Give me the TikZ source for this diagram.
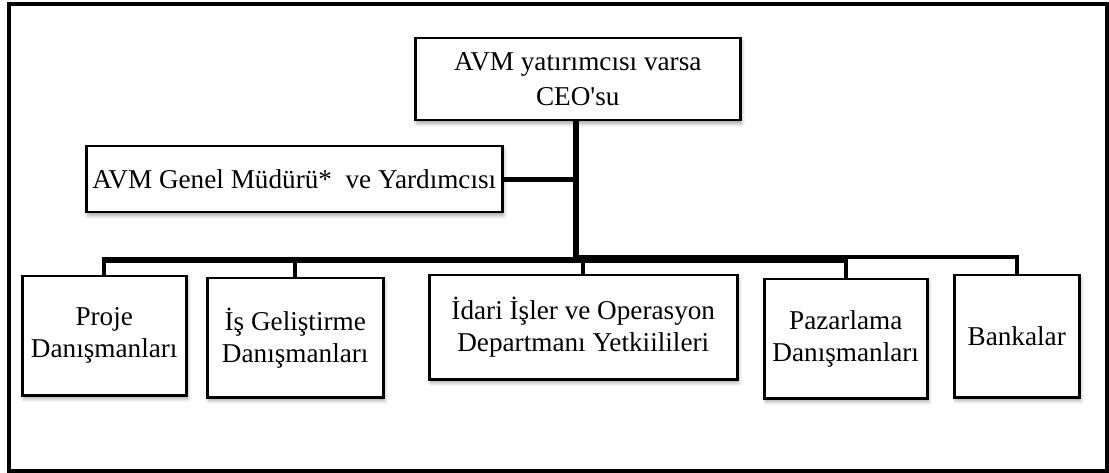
\documentclass[tikz,border=0pt]{standalone}
\usepackage{fontspec}
\setmainfont{Liberation Serif}
\usetikzlibrary{shadows.blur}
\tikzset{
  orgbox/.style={draw, line width=2.5pt, fill=white, align=center,
    inner sep=0pt, anchor=north west,
    font=\fontsize{27.2}{32}\selectfont,
    blur shadow={shadow xshift=1.5pt, shadow yshift=-3.5pt,
      shadow opacity=35, shadow blur steps=6, shadow blur radius=3.5pt}},
  trunk/.style={line width=6pt},
  bus/.style={line width=6.5pt},
  drop/.style={line width=4pt},
}
\begin{document}
\begin{tikzpicture}[x=1pt,y=-1pt]
\useasboundingbox (0,0) rectangle (1109,473);
% outer frame
\draw[line width=4pt] (9,4) rectangle (1107,471);

% boxes
\node[orgbox, minimum width=325pt, minimum height=82pt,
  font=\fontsize{27.2}{35}\selectfont] (ceo) at (414,37)
  {AVM yatırımcısı varsa\\CEO\textquotesingle su};
\node[orgbox, minimum width=416pt, minimum height=66pt] (gm) at (85,145)
  {AVM Genel Müdürü*\ \ ve Yardımcısı};
\node[orgbox, minimum width=164pt, minimum height=119pt] (proje) at (21,275)
  {Proje\\Danışmanları};
\node[orgbox, minimum width=176pt, minimum height=119pt] (is) at (206,277)
  {İş Geliştirme\\Danışmanları};
\node[orgbox, minimum width=308pt, minimum height=104pt] (idari) at (428,274)
  {İdari İşler ve Operasyon\\Departmanı Yetkiilileri};
\node[orgbox, minimum width=163pt, minimum height=119pt] (paz) at (763,278)
  {Pazarlama\\Danışmanları};
\node[orgbox, minimum width=125pt, minimum height=122pt] (bank) at (953,274)
  {Bankalar};

% connectors
\coordinate (j) at (576,260);
\coordinate (j2) at (576,257.5);
\draw[trunk] (ceo.south -| j) -- (j);
\draw[trunk, line width=5pt] (gm.east) -- (gm.east -| j);
\draw[bus] ([xshift=-2pt]proje.north |- j) -- ([xshift=2pt]paz.north |- j);
\draw[drop] (j2) -- (bank.north |- j2) -- (bank.north);
\draw[drop] (proje.north |- j) -- (proje.north);
\draw[drop] (is.north |- j) -- (is.north);
\draw[drop] (idari.north |- j) -- (idari.north);
\draw[drop] (paz.north |- j) -- (paz.north);
\end{tikzpicture}
\end{document}
